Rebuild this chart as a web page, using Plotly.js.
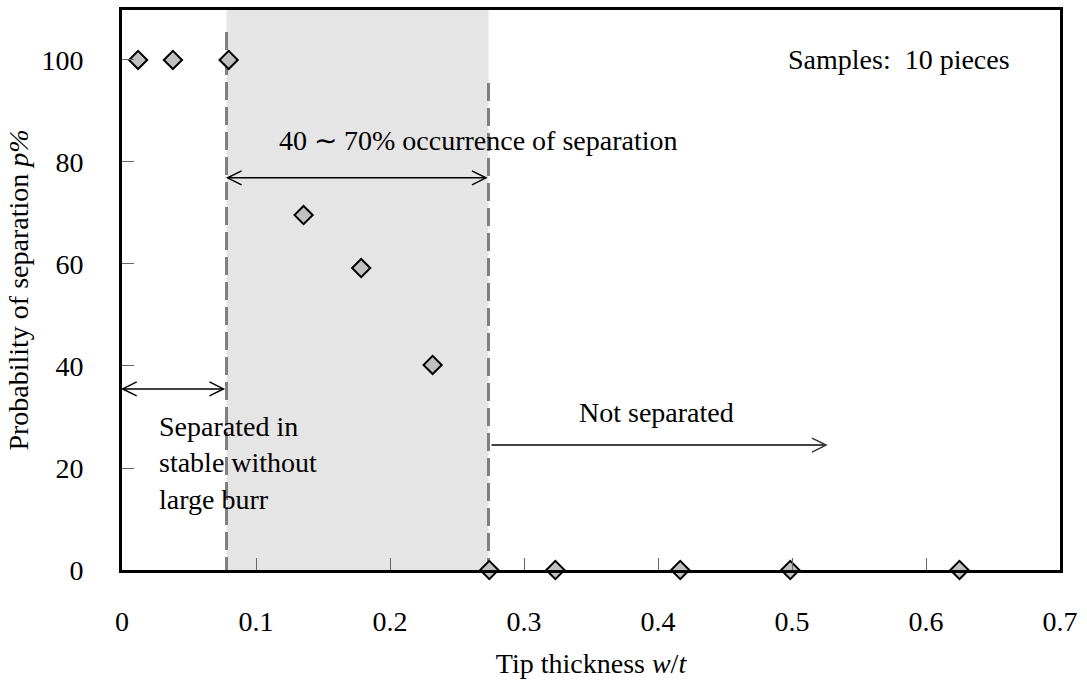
<!DOCTYPE html>
<html><head><meta charset="utf-8">
<script src="https://cdn.plot.ly/plotly-3.0.1.min.js"></script>
<style>html,body{margin:0;padding:0;background:#fff}</style>
</head><body><div id="chart" style="width:1087px;height:684px"></div>
<script>
// ---- data ----
const tipThickness   = [0.012, 0.038, 0.0796, 0.1355, 0.1785, 0.2318, 0.2741, 0.3234, 0.4166, 0.4987, 0.625];
const separationProb = [100, 100, 100, 69.6, 59.2, 40.2, 0, 0, 0, 0, 0];
const xTickVals = [0, 0.1, 0.2, 0.3, 0.4, 0.5, 0.6, 0.7];
const xTickText = ['0', '0.1', '0.2', '0.3', '0.4', '0.5', '0.6', '0.7'];
const yTickVals = [0, 20, 40, 60, 80, 100];
const yTickText = ['0', '20', '40', '60', '80', '100'];
// region boundaries (w/t) and guide heights (p%)
const stableLimit = 0.078;
const notSepLimit = 0.2735;
const stableDashTop = 105.5;
const notSepDashTop = 95.5;
// arrows: [xStart, xEnd, y]
const arrowStable = [0.0005, 0.0757, 35.5];
const arrowRange  = [0.0788, 0.2716, 76.9];
const arrowNotSep = [0.2757, 0.5254, 24.5];
// labels: [x, y]
const labelRange   = [0.2662, 84.3];
const labelSamples = [0.580, 100];
const labelNotSep  = [0.399, 30.8];
const labelStable  = [0.026, 21];

const FONT = '"Liberation Serif", "Times New Roman", serif';

function head(x, y, dir, color) {
  const p = dir > 0 ? 'M -14,7 L 0,0 L -14,-7' : 'M 14,7 L 0,0 L 14,-7';
  return {type: 'path', xref: 'x', yref: 'y', xsizemode: 'pixel', ysizemode: 'pixel',
          xanchor: x, yanchor: y, path: p, line: {color: color, width: 1.5}, layer: 'above'};
}
function seg(a, color, w) {
  return {type: 'line', xref: 'x', yref: 'y', x0: a[0], x1: a[1], y0: a[2], y1: a[2],
          line: {color: color, width: w}, layer: 'above'};
}

const shapes = [
  {type: 'rect', xref: 'x', yref: 'paper', x0: stableLimit, x1: notSepLimit, y0: 0, y1: 1,
   fillcolor: '#e5e5e5', line: {width: 0}, layer: 'below'},
  {type: 'line', xref: 'x', yref: 'y', x0: stableLimit, x1: stableLimit, y0: stableDashTop, y1: 0,
   line: {color: '#808080', width: 3, dash: '18px,7px'}, layer: 'below'},
  {type: 'line', xref: 'x', yref: 'y', x0: notSepLimit, x1: notSepLimit, y0: notSepDashTop, y1: 0,
   line: {color: '#808080', width: 3, dash: '18px,7px'}, layer: 'below'},
  seg(arrowStable, '#000', 1.5), head(arrowStable[0], arrowStable[2], -1, '#000'), head(arrowStable[1], arrowStable[2], 1, '#000'),
  seg(arrowRange, '#000', 1.5), head(arrowRange[0], arrowRange[2], -1, '#000'), head(arrowRange[1], arrowRange[2], 1, '#000'),
  seg(arrowNotSep, '#444', 2), head(arrowNotSep[1], arrowNotSep[2], 1, '#333')
];

const annotations = [
  {x: labelRange[0], y: labelRange[1], text: '40 \u223C 70% occurrence of separation', showarrow: false, xanchor: 'center', yanchor: 'middle'},
  {x: labelSamples[0], y: labelSamples[1], text: 'Samples:  10 pieces', showarrow: false, xanchor: 'center', yanchor: 'middle'},
  {x: labelNotSep[0], y: labelNotSep[1], text: 'Not separated', showarrow: false, xanchor: 'center', yanchor: 'middle'},
  {x: labelStable[0], y: labelStable[1], text: 'Separated in<br>stable without<br>large burr', showarrow: false, xanchor: 'left', yanchor: 'middle', align: 'left'}
].map(a => Object.assign({xref: 'x', yref: 'y', font: {family: FONT, size: 28, color: '#000'}}, a));

const trace = {
  x: tipThickness, y: separationProb, type: 'scatter', mode: 'markers', cliponaxis: false,
  marker: {symbol: 'diamond', size: 14, color: '#c0c0c0', line: {color: '#000', width: 2}},
  hoverinfo: 'skip'
};

const axisCommon = {
  showgrid: false, zeroline: false, showline: true, linecolor: '#000', linewidth: 3, mirror: true,
  ticks: 'inside', ticklen: 12, tickwidth: 1, tickcolor: '#666',
  tickfont: {family: FONT, size: 28, color: '#000'}
};

const layout = {
  width: 1087, height: 684,
  margin: {l: 122, r: 27, t: 10, b: 114},
  paper_bgcolor: '#fff', plot_bgcolor: '#fff',
  showlegend: false,
  font: {family: FONT, size: 28, color: '#000'},
  xaxis: Object.assign({}, axisCommon, {
    range: [0, 0.7], tickvals: xTickVals, ticktext: xTickText, ticklabelstandoff: 24,
    title: {text: 'Tip thickness <i>w</i>/<i>t</i>', font: {family: FONT, size: 28, color: '#000'}, standoff: 18}
  }),
  yaxis: Object.assign({}, axisCommon, {
    range: [0, 109.8], tickvals: yTickVals, ticktext: yTickText, ticklabelstandoff: 30,
    title: {text: 'Probability of separation <i>p%</i>', font: {family: FONT, size: 28, color: '#000'}, standoff: 5}
  }),
  shapes: shapes,
  annotations: annotations
};

Plotly.newPlot('chart', [trace], layout, {displayModeBar: false, staticPlot: true});
</script>
</body></html>
